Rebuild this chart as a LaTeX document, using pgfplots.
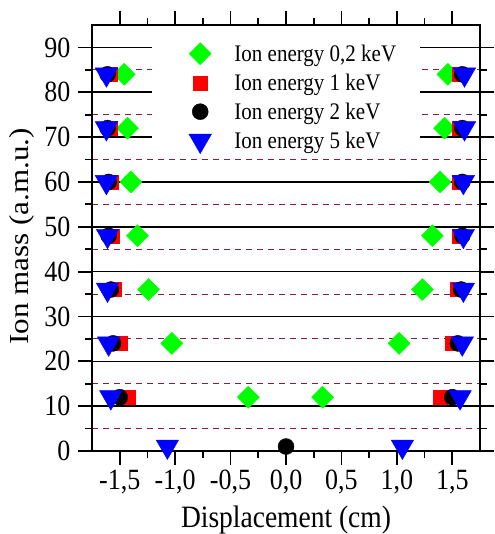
\documentclass[border=0pt]{standalone}
\usepackage{fontspec}
\setmainfont{Liberation Serif}
\usepackage{graphicx}
\usepackage{pgfplots}
\pgfplotsset{compat=1.18}

\definecolor{gridred}{RGB}{128,32,64}
% the original figure is stretched a little in height
\newcommand{\tall}[1]{\scalebox{1}[1.13]{#1}}

\begin{document}
\begin{tikzpicture}
\begin{axis}[
  scale only axis, width=388pt, height=426pt,
  xmin=-1.75, xmax=1.75, ymin=0, ymax=95,
  xtick={-1.5,-1,-0.5,0,0.5,1,1.5},
  xticklabels={{-1,5},{-1,0},{-0,5},{0,0},{0,5},{1,0},{1,5}},
  ytick={0,10,...,90},
  minor x tick num=1, minor y tick num=1,
  tick align=outside, xtick pos=both, ytick pos=both,
  major tick length=14pt, minor tick length=7pt,
  every tick/.style={black, line width=1.8pt},
  axis line style={line width=1.8pt},
  /pgf/number format/assume math mode=true,
  ticklabel style={font=\fontsize{26}{28}\selectfont, yscale=1.13},
  xticklabel style={anchor=north, yshift=-1pt},
  yticklabel style={anchor=east, xshift=-4pt},
  ymajorgrids, yminorgrids,
  major grid style={black, line width=1.6pt},
  minor grid style={gridred, line width=1pt, dash pattern=on 6pt off 5pt},
  xlabel={\tall{Displacement (cm)}},
  ylabel={\scalebox{1.13}[1]{Ion mass (a.m.u.)}},
  xlabel style={font=\fontsize{27.5}{30}\selectfont,
    at={(axis description cs:0.5,-0.179)}, anchor=base},
  ylabel style={font=\fontsize{27.5}{30}\selectfont,
    at={(axis description cs:-0.18,0.504)}, anchor=center},
  legend style={at={(0.154,0.959)}, anchor=north west, draw=none, fill=none,
    font=\fontsize{21}{23}\selectfont, row sep=7pt,
    inner xsep=37pt, inner ysep=0pt,
    /tikz/every odd column/.append style={column sep=21pt}},
  legend cell align=left,
  clip=true,
]
\fill[white] (rel axis cs:0.154,0.713) rectangle (rel axis cs:0.845,0.981);
\addplot[only marks, mark=square*, mark size=7.8pt,
  mark options={rotate=45, fill=green, draw=green}]
  coordinates {(-1.46,84)(1.46,84)(-1.43,72)(1.43,72)(-1.40,60)(1.39,60)
    (-1.34,48)(1.32,48)(-1.24,36)(1.23,36)(-1.03,24)(1.02,24)(-0.34,12)(0.33,12)};
\addlegendentry{\tall{Ion energy 0,2 keV}}
\addplot[only marks, mark=square*, mark size=7pt,
  mark options={fill=red, draw=red}]
  coordinates {(-1.42,12)(1.39,12)(-1.50,24)(1.50,24)(-1.55,36)(1.54,36)
    (-1.57,48)(1.56,48)(-1.58,60)(1.56,60)(-1.59,72)(1.56,72)(-1.59,84)(1.56,84)};
\addlegendentry{\tall{Ion energy 1 keV}}
\addplot[only marks, mark=*, mark size=8pt,
  mark options={fill=black, draw=black}]
  coordinates {(0,1)(-1.50,12)(1.50,12)(-1.56,24)(1.55,24)(-1.58,36)(1.58,36)
    (-1.60,48)(1.59,48)(-1.60,60)(1.59,60)(-1.61,72)(1.59,72)(-1.61,84)(1.59,84)};
\addlegendentry{\tall{Ion energy 2 keV}}
\addplot[only marks, mark=triangle*, mark size=13pt,
  mark options={rotate=180, fill=blue, draw=blue}]
  coordinates {(-1.07,1)(1.05,1)(-1.58,12)(1.57,12)(-1.60,24)(1.59,24)
    (-1.61,36)(1.60,36)(-1.61,48)(1.60,48)(-1.62,60)(1.60,60)(-1.62,72)(1.61,72)
    (-1.62,84)(1.61,84)};
\addlegendentry{\tall{Ion energy 5 keV}}
\end{axis}
\pgfresetboundingbox
\path (current axis.south west) ++(-92pt,-83pt) coordinate (bbA);
\path ([shift={(14pt,25pt)}]current axis.north east) coordinate (bbB);
\useasboundingbox (bbA) rectangle (bbB);
\end{tikzpicture}
\end{document}
